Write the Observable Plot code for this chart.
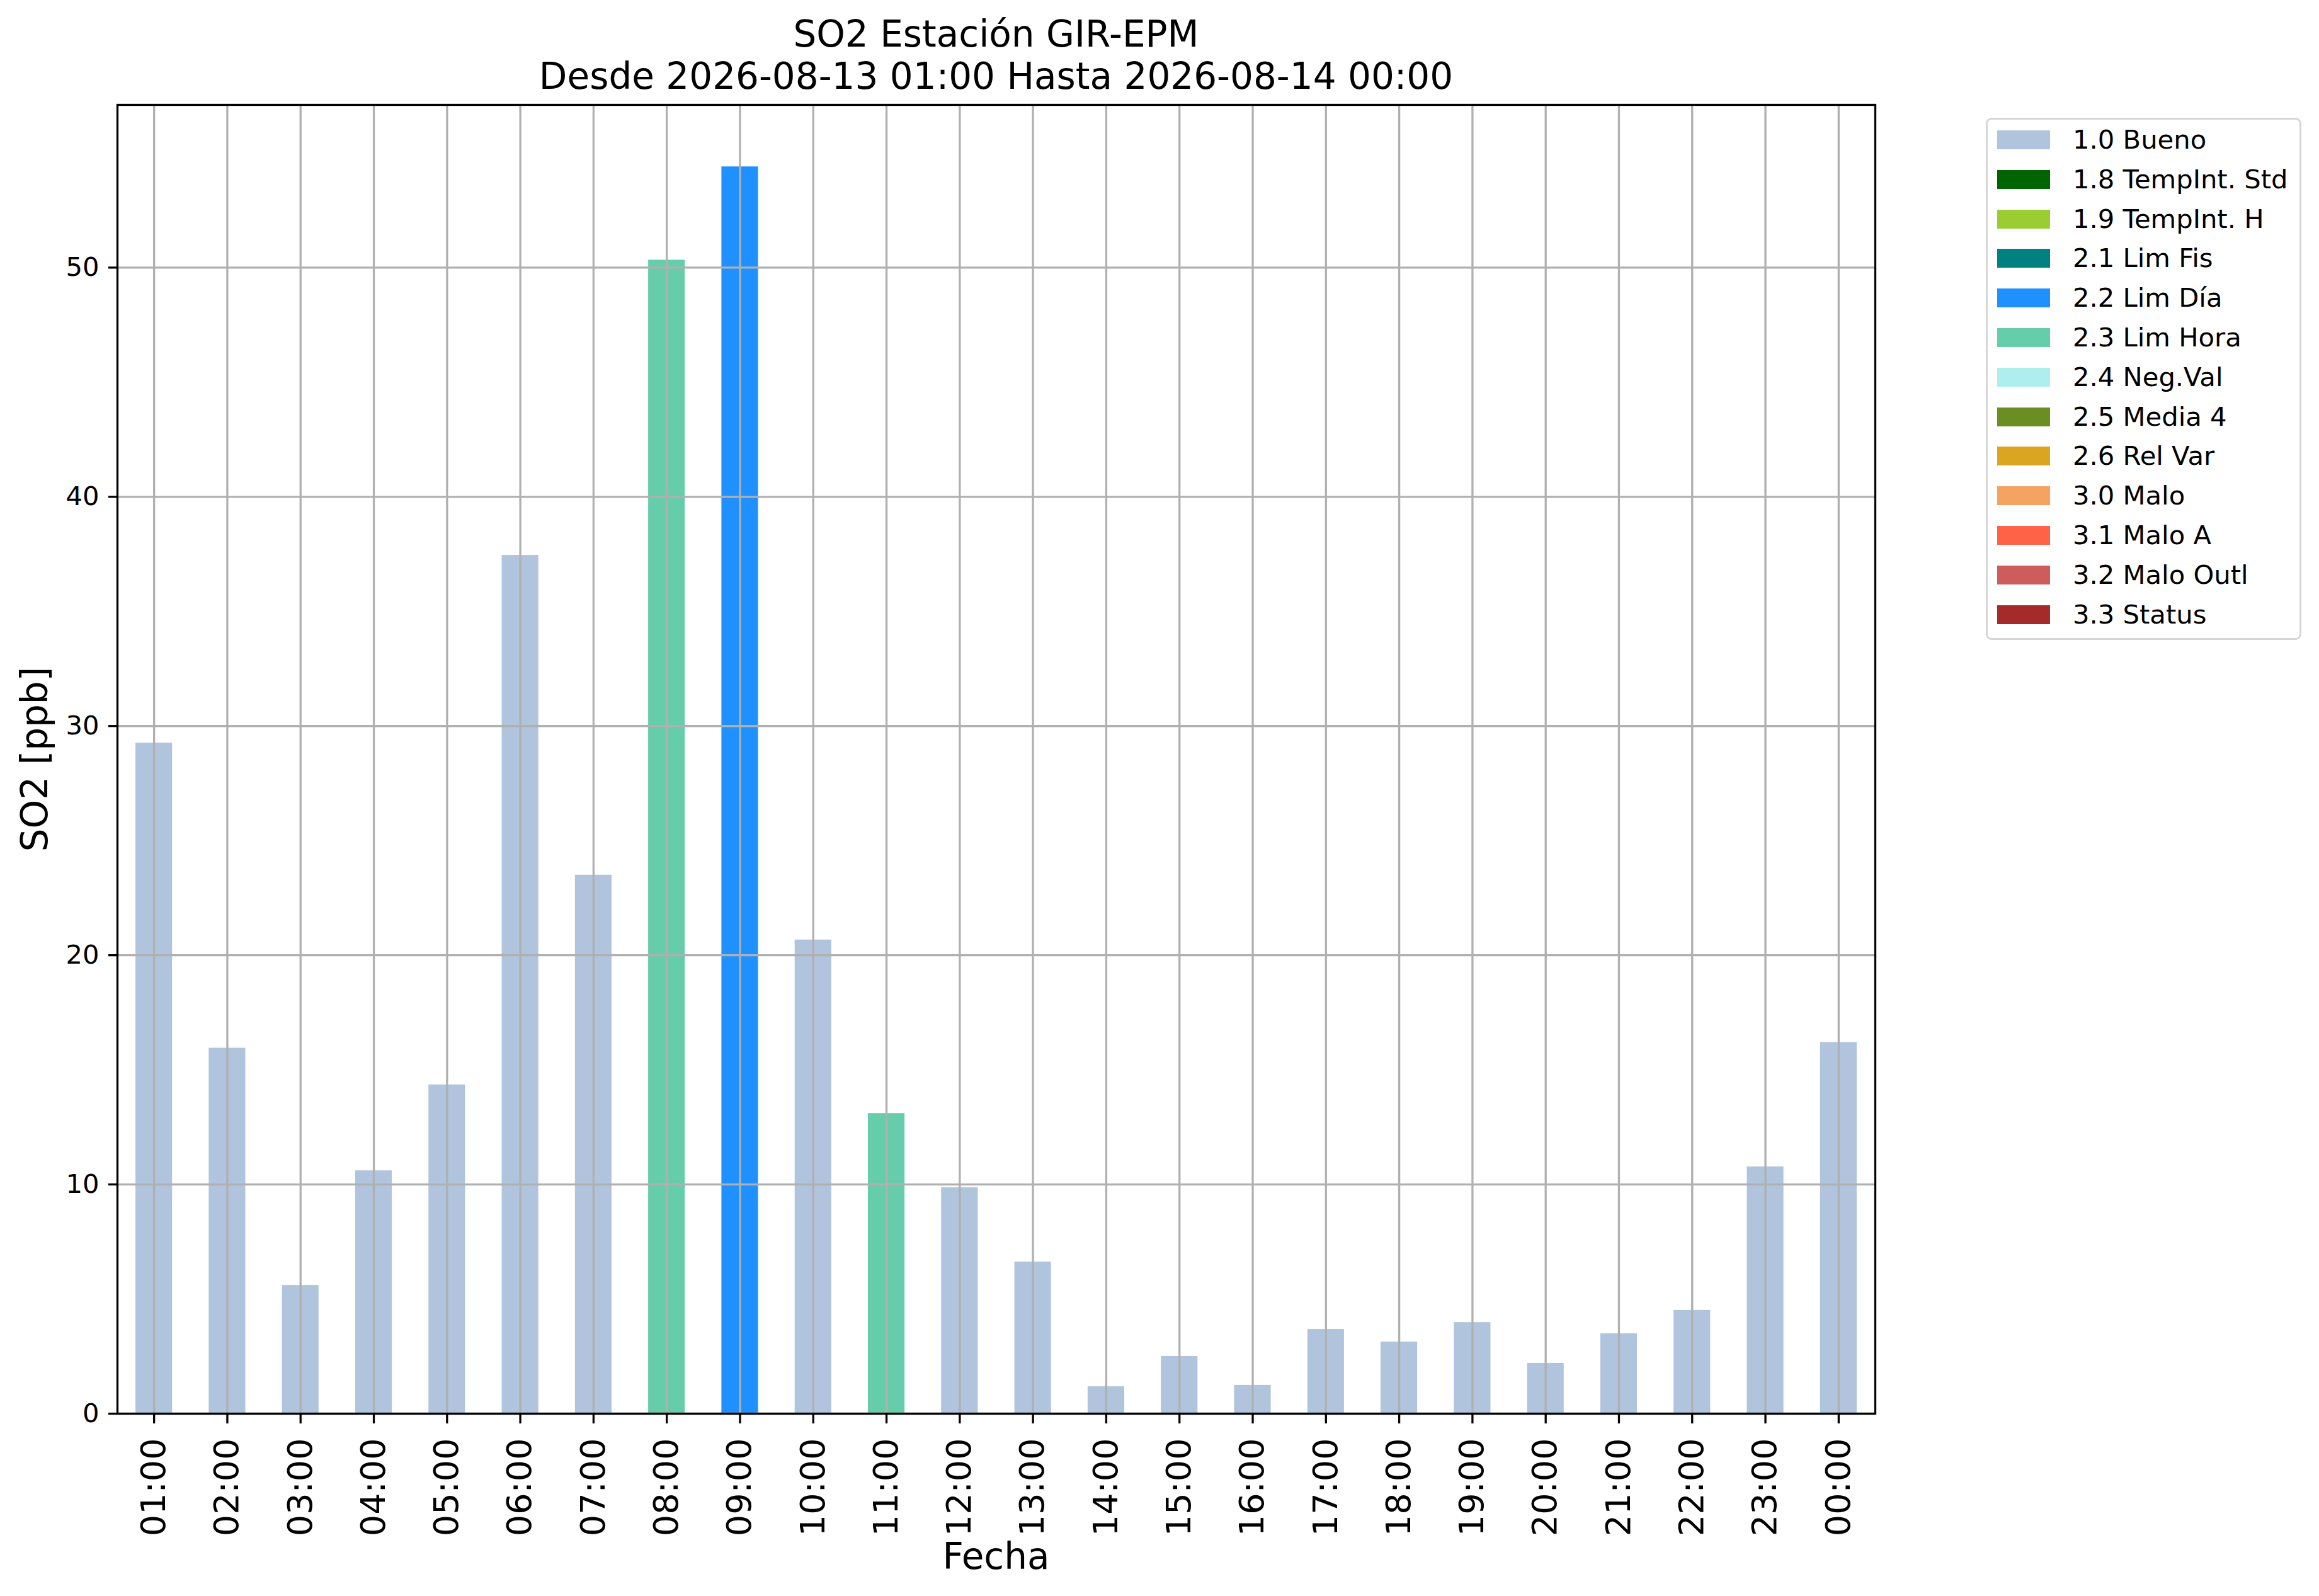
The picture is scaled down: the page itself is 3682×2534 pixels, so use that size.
<!DOCTYPE html>
<html>
<head>
<meta charset="utf-8">
<script src="https://cdn.jsdelivr.net/npm/d3@7"></script>
<script src="https://cdn.jsdelivr.net/npm/@observablehq/plot@0.6"></script>
<style>
  html, body { margin: 0; padding: 0; background: white; }
  #fig { position: relative; width: 3682px; height: 2534px; background: white; font-family: "DejaVu Sans", sans-serif; color: black; overflow: hidden; }
  #fig svg { position: absolute; left: 0; top: 0; max-width: none; }
  #fig g[aria-label="x-axis tick label"] { font-size: 54px; }
  #fig g[aria-label="y-axis tick label"] { font-size: 41.7px; }
  .title { position: absolute; left: 186px; width: 2791px; top: 21px; text-align: center; font-size: 58px; line-height: 67px; white-space: nowrap; }
  .ylabel { position: absolute; left: -245px; top: 1171.5px; width: 600px; height: 67px; line-height: 67px; font-size: 58px; text-align: center; transform: rotate(-90deg); transform-origin: 50% 50%; white-space: nowrap; }
  .xlabel { position: absolute; left: 186px; width: 2791px; top: 2438px; line-height: 67px; font-size: 58px; text-align: center; }
  .legend { position: absolute; left: 3153px; top: 187px; width: 501px; height: 829px; box-sizing: border-box; border: 3px solid #d6d6d6; border-radius: 9px; background: white; }
  .legend .sw { position: absolute; left: 15px; width: 84px; height: 30px; }
  .legend .lab { position: absolute; left: 135px; font-size: 41.7px; line-height: 50px; white-space: nowrap; }
</style>
</head>
<body>
<div id="fig"></div>
<script>
// ---- data ----
const hours = ["01:00","02:00","03:00","04:00","05:00","06:00","07:00","08:00","09:00","10:00","11:00","12:00",
               "13:00","14:00","15:00","16:00","17:00","18:00","19:00","20:00","21:00","22:00","23:00","00:00"];
const values = [29.26, 15.95, 5.6, 10.6, 14.35, 37.45, 23.5, 50.33, 54.4, 20.67, 13.1, 9.86,
                6.62, 1.18, 2.5, 1.24, 3.68, 3.13, 3.98, 2.2, 3.49, 4.51, 10.77, 16.2];
const flags = ["1.0 Bueno","1.0 Bueno","1.0 Bueno","1.0 Bueno","1.0 Bueno","1.0 Bueno","1.0 Bueno",
               "2.3 Lim Hora","2.2 Lim Día","1.0 Bueno","2.3 Lim Hora","1.0 Bueno",
               "1.0 Bueno","1.0 Bueno","1.0 Bueno","1.0 Bueno","1.0 Bueno","1.0 Bueno","1.0 Bueno",
               "1.0 Bueno","1.0 Bueno","1.0 Bueno","1.0 Bueno","1.0 Bueno"];
const legendLabels = ["1.0 Bueno","1.8 TempInt. Std","1.9 TempInt. H","2.1 Lim Fis","2.2 Lim Día","2.3 Lim Hora",
                      "2.4 Neg.Val","2.5 Media 4","2.6 Rel Var","3.0 Malo","3.1 Malo A","3.2 Malo Outl","3.3 Status"];
const legendColors = ["#b0c4de","#006400","#9acd32","#008080","#1e90ff","#66cdaa",
                      "#afeeee","#6b8e23","#daa520","#f4a460","#ff6347","#cd5c5c","#a52a2a"];
const yTicks = [0, 10, 20, 30, 40, 50];
const yMax = 57.1;
const titleLines = ["SO2 Estación GIR-EPM", "Desde 2026-08-13 01:00 Hasta 2026-08-14 00:00"];
const yLabel = "SO2 [ppb]";
const xLabel = "Fecha";

const data = hours.map((h, i) => ({hour: h, value: values[i], flag: flags[i]}));

const grid = "#b0b0b0";
const lw = 3.3;

const chart = Plot.plot({
  width: 3682,
  height: 2534,
  marginLeft: 186,
  marginRight: 705,
  marginTop: 166,
  marginBottom: 290,
  style: {fontFamily: "DejaVu Sans", fontSize: "41.7px", background: "white", color: "black", overflow: "visible"},
  x: {domain: hours, paddingInner: 0.5, paddingOuter: 0.25, round: false, label: null},
  y: {domain: [0, yMax], label: null},
  color: {domain: legendLabels, range: legendColors},
  marks: [
    Plot.barY(data, {x: "hour", y: "value", fill: "flag", insetLeft: 0, insetRight: 0}),
    Plot.gridX({stroke: grid, strokeOpacity: 1, strokeWidth: lw}),
    Plot.gridY(yTicks, {stroke: grid, strokeOpacity: 1, strokeWidth: lw}),
    Plot.axisX({tickSize: 16, tickPadding: 23, tickRotate: -90, fontSize: 54, stroke: "black", strokeWidth: lw, label: null}),
    Plot.axisY(yTicks, {tickSize: 14, tickPadding: 15, fontSize: 41.7, stroke: "black", strokeWidth: lw, label: null}),
    Plot.frame({stroke: "black", strokeWidth: lw})
  ]
});

const fig = document.getElementById("fig");
fig.appendChild(chart);

const t = document.createElement("div");
t.className = "title";
titleLines.forEach(line => { const d = document.createElement("div"); d.textContent = line; t.appendChild(d); });
fig.appendChild(t);

const yl = document.createElement("div");
yl.className = "ylabel";
yl.textContent = yLabel;
fig.appendChild(yl);

const xl = document.createElement("div");
xl.className = "xlabel";
xl.textContent = xLabel;
fig.appendChild(xl);

const lg = document.createElement("div");
lg.className = "legend";
const rowStep = 62.8;
legendLabels.forEach((lab, i) => {
  const sw = document.createElement("div");
  sw.className = "sw";
  sw.style.top = (17 + i * rowStep) + "px";
  sw.style.background = legendColors[i];
  lg.appendChild(sw);
  const tx = document.createElement("div");
  tx.className = "lab";
  tx.style.top = (7 + i * rowStep) + "px";
  tx.textContent = lab;
  lg.appendChild(tx);
});
fig.appendChild(lg);
</script>
</body>
</html>
